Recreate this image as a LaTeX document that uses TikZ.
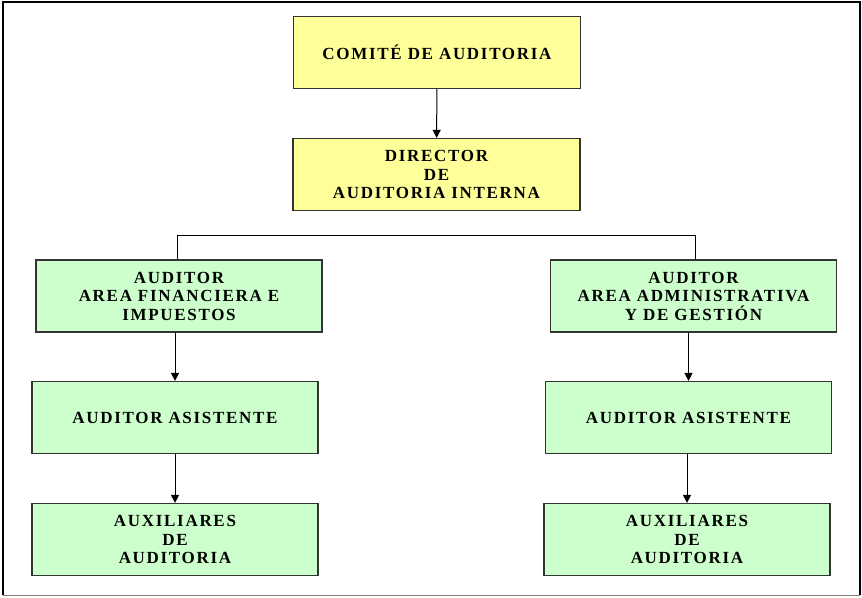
\documentclass[tikz,border=0pt]{standalone}
\usepackage{fontspec}
\setmainfont{Liberation Serif}[LetterSpace=10]
\usetikzlibrary{arrows.meta}
\definecolor{boxyellow}{HTML}{FFFF99}
\definecolor{boxgreen}{HTML}{CCFFCC}
\definecolor{edgegray}{HTML}{333333}
\begin{document}
\begin{tikzpicture}[x=1pt,y=-1pt,
  orgbox/.style={draw=edgegray, line width=1.2pt, rectangle, align=center,
    inner sep=0pt, font=\fontsize{17}{18.5}\selectfont\bfseries},
  ybox/.style={orgbox, fill=boxyellow, minimum width=287pt, minimum height=72pt},
  gbox/.style={orgbox, fill=boxgreen, minimum width=286pt, minimum height=72pt},
  arr/.style={draw=black, line width=1pt, -{Triangle[width=8pt,length=8pt]}},
  link/.style={draw=black, line width=1pt}]
\useasboundingbox (0,0) rectangle (862,597);
\fill[white] (0,0) rectangle (862,597);
% frame
\draw[black, line width=2.2pt] (3,595) -- (3,2) -- (860,2) -- (860,595);
\draw[gray, line width=1.2pt] (3,595.5) -- (860,595.5);
% nodes
\node[ybox] (comite) at (437,52.5) {COMITÉ DE AUDITORIA};
\node[ybox] (director) at (436.5,174.5) {DIRECTOR\\DE\\AUDITORIA INTERNA};
\node[gbox] (fin) at (179,296) {AUDITOR\\AREA FINANCIERA E\\IMPUESTOS};
\node[gbox] (adm) at (693.5,296) {AUDITOR\\AREA ADMINISTRATIVA\\Y DE GESTIÓN};
\node[gbox] (asl) at (175,417.5) {AUDITOR ASISTENTE};
\node[gbox] (asr) at (688.5,417.5) {AUDITOR ASISTENTE};
\node[gbox] (auxl) at (175,539.5) {AUXILIARES\\DE\\AUDITORIA};
\node[gbox] (auxr) at (687,539.5) {AUXILIARES\\DE\\AUDITORIA};
% connectors
\coordinate (barL) at (177,235);
\coordinate (barR) at (695,235);
\draw[arr] (comite) -- (director);
\draw[link] (fin.north -| barL) -- (barL) -- (barR) -- (adm.north -| barR);
\draw[arr] (fin.south -| asl.north) -- (asl.north);
\draw[arr] (adm.south -| asr.north) -- (asr.north);
\draw[arr] (asl) -- (auxl);
\draw[arr] (asr.south -| auxr.north) -- (auxr.north);
\end{tikzpicture}
\end{document}
